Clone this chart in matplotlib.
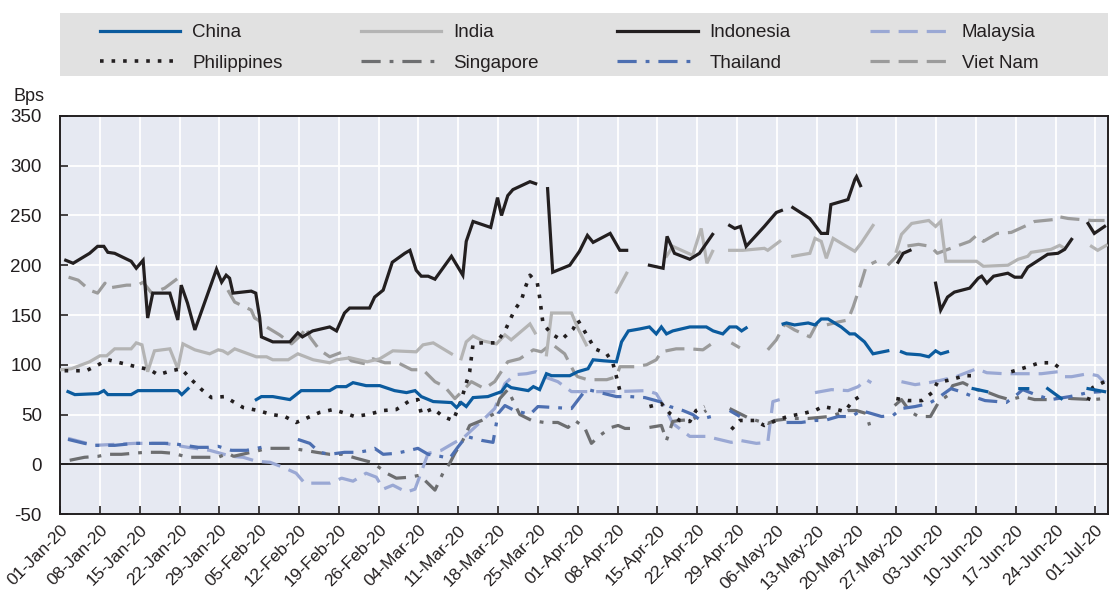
import matplotlib
matplotlib.use("Agg")
import matplotlib.pyplot as plt
import matplotlib.dates as mdates
from matplotlib.lines import Line2D
from matplotlib.patches import Rectangle
import numpy as np
from datetime import datetime

plt.rcParams["font.family"] = ["Liberation Sans", "DejaVu Sans"]
plt.rcParams["axes.unicode_minus"] = False

# Spreads in basis points; days counted from 01-Jan-2020, None marks a break in the series
china_days = [1.4, 2.6, 6.7, 7.7, 8.4, 12.5, 13.7, 20.7, 21.4, 22.5, 28, 34.5, 35.4, 37.4, 40.4, 42.4, 47.4, 48.6,
              50.3, 51.5, 53.8, 56.2, 58.8, 60.9, 62.4, 63.5, 65.6, 68.8, 69.7, 70.5, 71.4, 72.6, 75.2, 77.6, 78.5,
              79.3, 82.3, 83.2, 84.3, 85.5, 86.4, 89.6, 91.0, 92.8, 93.7, 95.5, 97.8, 98.7, 99.9, 101.9, 103.6,
              104.8, 105.7, 106.6, 107.7, 110.7, 113.6, 114.8, 116.5, 117.7, 118.9, 119.8, 120.6, 124, 127.1, 127.7,
              129.1, 131.5, 132.7, 133.8, 135.0, 137.3, 138.8, 139.7, 141.4, 142.9, 145.5, 146.7, 147.9, 148.8,
              151.2, 152.7, 153.9, 154.8, 156.0, 158, 160.5, 162.9, 165, 168.7, 170.1, 172, 173.6, 176.0, 178,
              180.7, 183.6]
china_bps = [73, 70, 71, 74, 70, 70, 74, 74, 70, 76, None, 65, 68, 68, 65, 74, 74, 78,
             78, 82, 79, 79, 74, 72, 74, 68, 63, 62, 57, 62, 58, 67, 68, 73, 80,
             77, 74, 78, 75, 91, 89, 89, 93, 96, 105, 104, 103, 123, 134, 136, 138,
             131, 138, 131, 134, 138, 138, 134, 131, 138, 138, 134, 137, None, 141, 142,
             140, 142, 140, 146, 146, 138, 131, 131, 123, 111, 114, None, 113, 111,
             110, 108, 114, 111, 113, None, 76, 73, None, 76, 76, None, 76, 66, None,
             76, 73]

india_days = [0.2, 2.0, 5.2, 7.0, 8.2, 9.6, 12.5, 13.4, 14.4, 15.4, 16.6, 19.3, 20.7, 21.6, 23.7, 26.3, 27.8, 28.6,
              29.5, 30.7, 34.5, 36.3, 37.4, 40.1, 41.8, 44.5, 47.4, 48.6, 51.0, 54.0, 56.2, 58.5, 62.6, 63.8, 65.6,
              68.8, 69.6, 70.5, 71.4, 72.6, 74.3, 76.7, 78.2, 79.3, 82.6, 83.5, 84.5, 85.5, 86.4, 89.9, 91.0, 92.5,
              94, 97.8, 99.6, 103, 106.6, 107.7, 111.2, 112.7, 113.7, 114.7, 116, 117.7, 120.0, 123.8, 124.4,
              126.5, 127.5, 128.8, 131.8, 132.7, 133.8, 134.7, 135.9, 139.7, 140.8, 142.9, 145, 147.0, 147.9,
              149.7, 152.7, 153.9, 154.8, 155.7, 161.1, 162.3, 166.6, 168.4, 170.1, 170.7, 174.2, 175.7, 176.6,
              179, 181.3, 182.4, 183.9]
india_bps = [95, 96, 103, 109, 109, 116, 116, 122, 120, 93, 114, 116, 96, 121, 115, 111, 115, 114,
             111, 116, 108, 108, 105, 105, 111, 105, 102, 105, 107, 103, 106, 114, 113, 120, 122,
             111, None, 106, 123, 129, 124, 121, 130, 125, 141, 132, None, 110, 152, 152, 137, 120,
             None, 173, 192, None, 209, 219, 210, 237, 202, 214, None, 215, 215, 217, 215,
             224, None, 209, 212, 227, 224, 207, 227, 214, 222, 240, None, 214, 231,
             242, 245, 239, 244, 204, 204, 199, 200, 206, 209, 213, 216, 220, 217,
             None, 219, 215, 220]

indonesia_days = [1, 2.3, 5.2, 6.6, 7.7, 8.4, 9.6, 12.5, 13.4, 14.6, 15.4, 16.3, 19.3, 20.7, 21.3, 22.4, 23.7,
                  27.5, 28.4, 29.2, 29.8, 30.4, 33.6, 34.4, 35.1, 35.4, 37.4, 40.4, 41.8, 42.6, 44.4, 47.4, 48.6,
                  50.0, 50.9, 54.4, 55.3, 56.8, 58.4, 60.6, 61.5, 62.6, 63.5, 64.7, 65.9, 68.8, 70.8, 71.4, 72.6,
                  75.7, 76.9, 77.6, 78.7, 79.6, 82.6, 83.6, 84.5, 85.7, 86.6, 89.6, 91.3, 92.7, 93.7, 96.7, 98.4,
                  99.6, 101.5, 103.6, 106.0, 106.7, 108.0, 110.7, 112.4, 114.7, 116, 117.7, 118.6, 119.6, 120.6,
                  123.8, 125.9, 126.8, 127.8, 128.8, 131.8, 133.8, 134.9, 135.5, 138.5, 139.7, 140.0, 140.7, 144,
                  147.3, 148.2, 149.4, 151.5, 153.9, 154.8, 156.0, 157.2, 159.9, 161.4, 162.0, 162.9, 164.1,
                  166.6, 167.8, 169.0, 170.1, 173.6, 175.4, 176.6, 177.8, 179, 180.7, 181.8, 183.6]
indonesia_bps = [205, 202, 212, 219, 219, 213, 212, 204, 197, 205, 147, 172, 172, 145, 180, 162, 135,
                 196, 183, 190, 187, 172, 174, 172, 147, 128, 123, 123, 132, 128, 134, 138, 134,
                 152, 157, 157, 168, 175, 203, 212, 215, 195, 189, 189, 186, 209, 190, 224, 244,
                 238, 268, 250, 270, 276, 284, 282, None, 277, 193, 200, 214, 230, 223, 232, 215,
                 215, None, 200, 197, 229, 212, 206, 212, 231, None, 240, 237, 239, 219,
                 239, 253, 255, None, 258, 247, 232, 232, 261, 266, 286, 289, 280, None,
                 203, 212, 215, None, 182, 155, 168, 173, 177, 187, 189, 182, 189,
                 192, 188, 188, 198, 211, 212, 216, 226, None, 242, 232, 239]

malaysia_days = [1.4, 6.1, 13.1, 18.4, 22.5, 26.3, 30.1, 32.2, 34.5, 36.9, 39.2, 41.5, 43.0, 47.4, 49.5, 51.5,
                 53.8, 55.6, 56.8, 58.5, 60.9, 62.4, 64.7, 67.0, 69.4, 70.8, 72.3, 74.6, 76.4, 78.2, 79.9, 82.0,
                 83.7, 85.1, 87.5, 89.9, 92.2, 97.8, 103.1, 104.8, 106.6, 107.7, 110.7, 113.6, 118.0, 119.5,
                 122.4, 124.4, 125.3, 126.5, 129.5, 132.7, 135.6, 138.5, 140.3, 141.7, 142.6, 145, 147.9, 150.3,
                 152.7, 154.5, 157.5, 161.1, 162.9, 165.9, 169.5, 172.5, 175.4, 176.6, 177.8, 180.7, 182.4, 183.6]
malaysia_bps = [26, 19, 21, 21, 17, 14, 8, 7, 3, 2, -3, -9, -19, -19, -14, -17,
                -9, -13, -25, -21, -28, -25, 11, 14, 22, 26, 34, 46, 56, 81, 90, 91,
                93, 88, 83, 73, 73, 73, 74, 71, 54, 41, 28, 28, 22, 24,
                21, 22, 63, 65, None, 72, 75, 74, 78, 85, 82, None, 83, 80,
                82, 84, 88, 96, 92, 91, 91, 91, 93, 88, 88, 91, 89, 82]

philippines_days = [0.8, 4.6, 6.4, 8.4, 13.4, 15.8, 17.2, 19.6, 21.3, 23.1, 24.9, 26.6, 28.9, 30.7, 32.2, 34.8,
                    37.2, 39.5, 41.5, 43.6, 45.6, 48.0, 49.7, 51.8, 54.1, 56.8, 59.1, 61.5, 62.9, 63.5, 65.6,
                    67.3, 69.1, 70.5, 72.0, 72.6, 74.1, 76.7, 78.2, 79.9, 81.1, 81.8, 82.6, 83.9, 84.3, 84.9,
                    86.4, 88.1, 90.2, 91.0, 92.8, 94.0, 96.1, 97.2, 97.8, 98.4, 101, 103.6, 105.7, 107.2, 108.9,
                    110.7, 111.8, 113.3, 116, 118.0, 119.5, 122.1, 123.8, 125.9, 127.9, 130.6, 132.7, 134.1,
                    135.9, 137.9, 139.4, 141.1, 144, 147.0, 149.1, 151.5, 153.3, 154.2, 156.6, 159.0, 161.1,
                    164, 167.2, 168.4, 170.1, 172.2, 174.5, 176.3, 178, 180.7, 181.5, 183.6]
philippines_bps = [94, 94, 99, 105, 98, 95, 90, 94, 96, 85, 75, 67, 68, 62, 57, 54,
                   50, 48, 42, 47, 52, 55, 52, 48, 50, 54, 55, 64, 65, 51, 56,
                   48, 44, 64, 93, 121, 122, 122, 134, 155, 165, 178, 190, 182, 168, 141,
                   131, 125, 136, 145, 128, 116, 111, 101, 88, 74, None, 58, 61, 51, 44,
                   43, 54, 58, None, 35, 44, 44, 39, 44, 48, 51, 54, 58,
                   56, 53, 64, 70, None, 66, 64, 64, 72, 82, 85, 89, 89,
                   None, 93, 95, 98, 102, 102, 94, None, 64, 77, 83]

singapore_days = [1.7, 4.3, 6.7, 8.4, 10.8, 12.8, 14.9, 17.8, 19.9, 22.5, 27.8, 29.5, 30.5, 35.1, 36.3, 40.7,
                  43.0, 45.1, 47.4, 49.7, 52.1, 54.7, 55.6, 57.4, 59.1, 61.5, 63.2, 65.9, 67.3, 68.5, 69.4,
                  70.8, 72.0, 74.1, 76.4, 77.3, 78.7, 80.8, 82.9, 85.1, 87.5, 89.3, 90.5, 92.2, 93.4, 94.9,
                  96.9, 98.1, 99.3, 101.0, 102.3, 103.6, 105.7, 106.6, 107.7, 108.9, 111.2, 113.6, 115.5, 117.7,
                  121.2, 123.0, 124.4, 125.6, 128.5, 131.5, 135.3, 138.5, 140.0, 141.7, 142.3, 144.5, 146.7,
                  147.9, 149.4, 150.9, 153.0, 154.5, 156.0, 156.9, 158.7, 161.1, 163.2, 165.0, 166.9, 169.2,
                  171.3, 173.6, 176.0, 177.8, 181.5, 183.6]
singapore_bps = [4, 7, 8, 10, 10, 11, 12, 12, 11, 7, 7, 11, 8, 14, 16, 16,
                 14, 12, 10, 10, 6, 2, -1, -9, -14, -13, -11, -26, -9, 1, 11,
                 24, 39, 44, 51, 66, 75, 50, 44, 42, 42, 37, 44, 37, 21, 29,
                 37, 39, 36, 36, None, 37, 39, 24, 43, 44, 45, 54, None, 56,
                 46, 43, 41, 44, 46, 46, 48, 54, 54, 51, 39, None, 59,
                 65, 53, 48, 48, 63, 69, 79, 82, 75, 72, 68, 65, 68,
                 65, 65, 67, 66, 65, 66]

thailand_days = [1.4, 4.3, 6.1, 9.6, 13.1, 14.9, 19.6, 21.9, 24.3, 26.0, 27.8, 30.1, 32.8, 35.4, 36.9, 39.5,
                 41.8, 43.9, 45.6, 47.4, 50.0, 52.4, 54.4, 55.3, 56.8, 59.1, 61.5, 62.9, 64.7, 66.8, 68.5,
                 69.9, 71.4, 74.1, 76.1, 77.0, 78.2, 79.9, 82.6, 84.0, 89.9, 91.9, 92.8, 97.8, 100.2, 102.8,
                 106.0, 107.2, 109.5, 111.2, 112.4, 114.5, 116, 117.7, 119.5, 123.5, 127.7, 130.3, 132.7,
                 134.4, 136.8, 139.1, 140.8, 144.4, 146.4, 147.9, 150.3, 152.7, 153.9, 156.6, 158.3, 160.5,
                 162.6, 164.7, 166.3, 167.8, 169.2, 171.9, 174.2, 177.5, 180.7, 183.0]
thailand_bps = [25, 21, 19, 19, 21, 21, 21, 19, 17, 17, 18, 14, 14, 17, 19, None,
                25, 21, 12, 10, 12, 12, 14, 16, 10, 11, 14, 16, 10, 8, 6,
                17, 28, 24, 22, 51, 59, 54, 50, 58, 56, 71, 75, 68, 68, 67,
                62, 58, 54, 50, 45, 48, None, 54, 48, None, 42, 42, 44,
                44, 48, 48, 54, 48, 49, 56, 58, 61, 65, 76, 73, 68,
                64, 63, 62, 68, 75, 69, 65, 68, 72, 73]

vietnam_days = [1.5, 3.2, 5.2, 6.6, 7.9, 8.4, 11.7, 13.7, 14.6, 16.1, 18.4, 21.2, 25, 29.5, 30.4, 30.7, 32.5,
                33.6, 34.2, 34.8, 36.3, 38.6, 40.7, 42.4, 43.3, 43.9, 45.6, 47.4, 49.7, 51.2, 53.6, 55.0, 57.1,
                59.4, 61.8, 63.8, 65.9, 67.6, 69.4, 70.8, 72.3, 74.6, 76.4, 78.7, 80.8, 83.2, 84.6, 86.4, 88.7,
                90.5, 91.0, 92.7, 96.1, 97.8, 98.4, 101.0, 103.1, 104.8, 105.7, 108.3, 110.7, 113.0, 114.5,
                116, 118.0, 119.5, 122, 124.4, 125.9, 127.4, 129.1, 131.8, 133.0, 134.7, 136.8, 138.5, 139.4,
                140.8, 141.7, 143.5, 144.5, 145.5, 146.7, 148.5, 150.9, 153.0, 154.2, 157.5, 159.9, 161.1,
                162.3, 164.7, 167.2, 169.5, 171.3, 174.8, 175.4, 177.2, 181.3, 183.6]
vietnam_bps = [188, 185, 175, 172, 182, 177, 180, 180, 183, 172, 177, 189, None, 175, 166, 163, 158,
               155, 147, 145, 138, 130, 121, 130, 138, 128, 115, 108, 113, 104, 101, 106, 102,
               102, 95, 95, 83, 78, 66, 74, 83, 76, 83, 103, 106, 115, 113, 121, 111,
               91, 88, 85, 85, 88, 98, 98, 100, 105, 113, 116, 116, 115, 121,
               None, 122, 117, None, 115, 125, 141, 135, 128, 141, 140, 143, 145, 158,
               182, 199, 204, None, 200, 207, 219, 221, 219, 212, 219, 224, 230,
               224, 232, 233, 239, 244, 246, 249, 247, 245, 245]

tick_days = np.arange(0, 183, 7)

BASE = mdates.date2num(datetime(2020, 1, 1))

DASH = (0, (6.0, 2.8))
DASH_DOT = (0, (6.0, 2.8, 1.2, 2.8))
DOT = (0, (1.0, 2.2))

series = [
    ("China", china_days, china_bps, "#0b5b9e", "-", 2.3),
    ("Philippines", philippines_days, philippines_bps, "#231f20", DOT, 2.6),
    ("India", india_days, india_bps, "#b4b4b4", "-", 2.3),
    ("Singapore", singapore_days, singapore_bps, "#6d6e70", DASH_DOT, 2.3),
    ("Indonesia", indonesia_days, indonesia_bps, "#231f20", "-", 2.3),
    ("Thailand", thailand_days, thailand_bps, "#4d6fb1", DASH_DOT, 2.3),
    ("Malaysia", malaysia_days, malaysia_bps, "#9aa8d4", DASH, 2.3),
    ("Viet Nam", vietnam_days, vietnam_bps, "#9b9b9b", DASH, 2.3),
]

fig = plt.figure(figsize=(11.16, 5.90), dpi=100)
ax = fig.add_axes([0.0538, 0.1288, 0.9390, 0.6746])
ax.set_facecolor("#e6e9f2")

draw_order = ["Viet Nam", "India", "Malaysia", "Singapore", "Thailand", "Philippines", "China", "Indonesia"]
leg_handles = []
for name, days, bps, color, ls, lw in series:
    x = BASE + np.asarray(days, dtype=float)
    y = np.asarray(bps, dtype=float)
    ax.plot(x, y, lw=lw, color=color, linestyle=ls, solid_joinstyle="miter",
            zorder=3 + draw_order.index(name))
    leg_handles.append(Line2D([], [], color=color, linestyle=ls, lw=lw))

ax.axhline(0, color="#231f20", lw=1.4, zorder=2)

ax.set_xlim(BASE, BASE + 184.2)
ax.set_ylim(-50, 350)
ax.set_yticks(np.arange(-50, 351, 50))
ax.xaxis.set_major_locator(matplotlib.ticker.FixedLocator(BASE + tick_days))
ax.xaxis.set_major_formatter(mdates.DateFormatter("%d-%b-%y"))
ax.grid(True, color="white", lw=1.3, zorder=1)
ax.set_axisbelow(True)

for side in ["left", "bottom", "top", "right"]:
    ax.spines[side].set_color("#231f20")
    ax.spines[side].set_linewidth(1.4)
ax.tick_params(axis="both", direction="in", length=6, width=1.2, color="#231f20",
               labelcolor="#231f20")
ax.tick_params(axis="x", labelsize=12.5, pad=6)
ax.tick_params(axis="y", labelsize=13.5, pad=13)
plt.setp(ax.get_xticklabels(), rotation=45, ha="right", rotation_mode="anchor")

fig.text(0.012, 0.822, "Bps", fontsize=13, color="#231f20", ha="left", va="bottom")

# grey band behind the key
fig.patches.append(Rectangle((0.0538, 0.871), 0.9390, 0.107, transform=fig.transFigure,
                             facecolor="#e1e1e1", edgecolor="none", zorder=0))

labels = [s[0] for s in series]
leg = fig.legend(leg_handles, labels, ncol=4, loc="center left",
                 bbox_to_anchor=(0.0896, 0.9187), frameon=False,
                 handlelength=4.27, handletextpad=0.64, fontsize=13.5,
                 borderaxespad=0.0, borderpad=0.0, labelspacing=0.73,
                 columnspacing=4.2)
for t in leg.get_texts():
    t.set_color("#231f20")

fig.savefig("out.png", dpi=100)
